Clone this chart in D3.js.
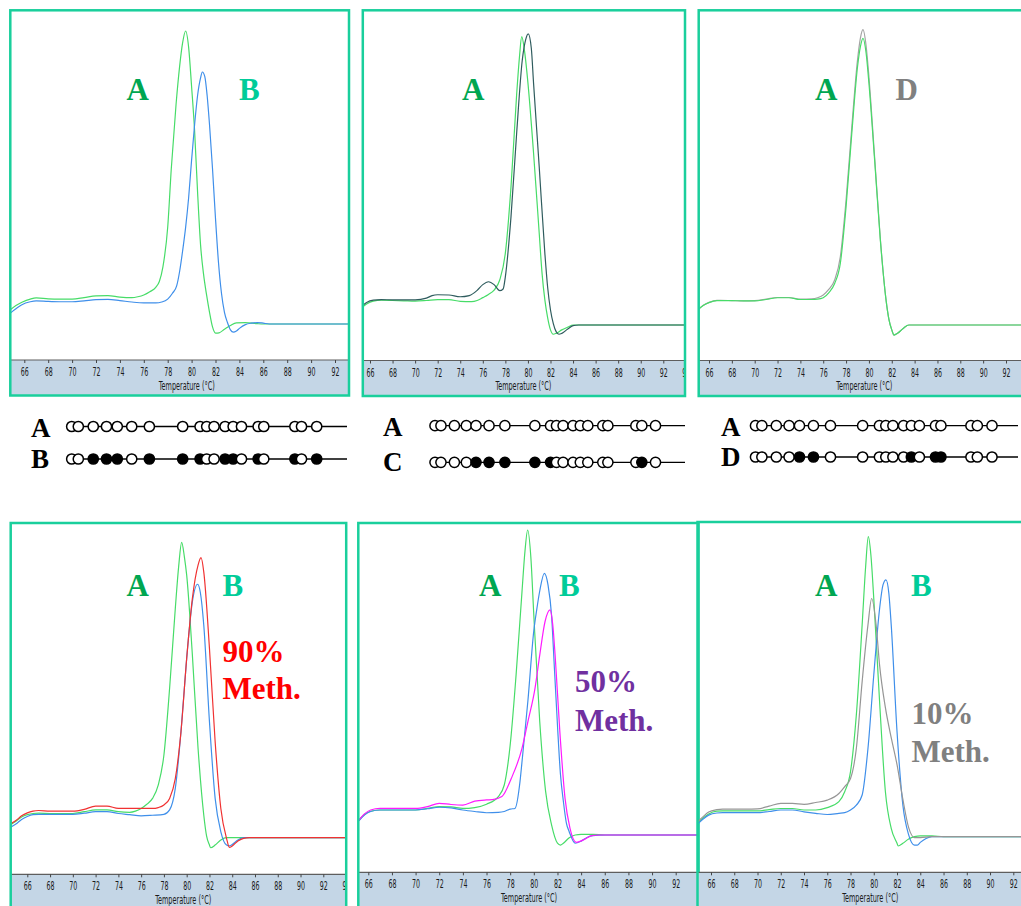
<!DOCTYPE html>
<html><head><meta charset="utf-8">
<script src="https://cdn.jsdelivr.net/npm/d3@7"></script>
<style>body{margin:0;background:#fff}svg{display:block}</style>
</head><body><svg id="chart" width="1021" height="906"></svg>
<script>
// ---------------- DATA ----------------
const tickTemps = [66,68,70,72,74,76,78,80,82,84,86,88,90,92,94];
const axisTitle = "Temperature (°C)";

// melt curves: [temperature °C, relative -dF/dT]
const p1_A = [[64.8,4.8],[65.3,6.3],[65.8,7.4],[66.5,8.5],[67,8.9],[68,8.6],[69,8.5],[70,8.5],[71,9.0],[72,9.6],[73,9.7],[74,9.2],[75,9.0],[75.5,9.3],[76,9.9],[76.5,11.0],[77,12.5],[77.3,14.5],[77.6,19.5],[78,33],[78.3,53],[78.7,75],[79,88],[79.25,96],[79.5,100],[79.75,94.5],[80,81],[80.25,66],[80.5,45],[80.75,27],[81,17],[81.25,10],[81.5,4],[81.75,-1],[82,-3.1],[82.3,-3.0],[82.75,-1.8],[83.25,-0.5],[83.75,0.4],[84.5,0.5],[85.5,0.1],[86,0],[94,0]];
const p1_B = [[64.8,3.6],[65.3,5.2],[65.8,6.6],[66.5,7.6],[67,7.9],[68,7.7],[69,7.6],[70,7.6],[71,7.9],[72,8.3],[73,8.4],[74,8.0],[75,7.5],[76,7.2],[77,7.2],[77.5,7.5],[78,8.5],[78.4,10.5],[78.75,13],[79,18],[79.25,25],[79.5,33],[79.75,43],[80,56],[80.25,68],[80.5,78],[80.75,84],[80.9,86],[81.1,84.5],[81.3,78],[81.5,68],[81.75,53],[82,36],[82.25,21],[82.5,10.5],[82.75,4],[83,0.5],[83.25,-2],[83.5,-2.8],[83.75,-2.4],[84,-1.5],[84.5,-0.2],[85,0.3],[85.5,0.5],[86,0.3],[86.5,0],[94,0]];

const p2_A = [[65.2,5.8],[65.7,7.3],[66.3,8.3],[67,8.6],[68,8.5],[69,8.4],[70,8.3],[71,8.5],[72,8.8],[73,8.8],[74,8.2],[75,8.1],[75.5,8.5],[76,9.5],[76.5,10.6],[77,12.1],[77.5,15.6],[78,25],[78.5,48],[79,80],[79.25,93],[79.45,100],[79.7,95],[80,84],[80.5,59.6],[81,31.8],[81.25,18],[81.5,8.7],[81.75,2.5],[82,-1.7],[82.25,-3.2],[82.5,-2.9],[83,-1.7],[83.5,-0.8],[84,0],[95,0]];
const p2_C = [[65.2,6.3],[65.7,7.8],[66.3,8.6],[67,8.8],[68,8.7],[69,8.7],[70,8.7],[71,9.3],[71.5,10.2],[72,10.5],[73,10.4],[74,9.8],[74.8,10.2],[75.5,12],[76,14],[76.5,15],[77,14],[77.5,11.9],[77.8,12.5],[78,16.8],[78.5,37.6],[79,66.5],[79.5,91.9],[79.8,99],[80.03,101],[80.3,96],[80.5,83.8],[81,54.9],[81.5,24.9],[81.75,13],[82,5.2],[82.25,0.5],[82.5,-2.3],[82.75,-3.2],[83,-2.9],[83.5,-1.5],[84,-0.2],[84.5,0],[95,0]];

const p3_A = [[65.0,5.2],[65.5,6.8],[66,7.8],[66.7,8.5],[67,8.5],[68,8.5],[69,8.4],[70,8.4],[71,8.9],[72,9.5],[73,9.5],[74,8.9],[75,8.9],[75.5,9.0],[76,9.5],[76.5,11.3],[77,14.5],[77.5,21.6],[78,41.3],[78.5,66.8],[79,90],[79.25,97],[79.48,100],[79.75,95],[80,84.3],[80.5,57.5],[81,29.6],[81.5,8.7],[81.75,2],[82,-1.7],[82.2,-3.5],[82.5,-2.9],[83,-1.2],[83.5,0],[95,0]];
const p3_D = [[65.0,5.2],[65.5,6.9],[66,7.9],[66.7,8.6],[67,8.6],[68,8.5],[69,8.4],[70,8.5],[71,9.0],[72,9.6],[73,9.6],[74,9.0],[75,9.1],[75.5,9.5],[76,10.5],[76.5,12.5],[77,15.7],[77.5,23.9],[78,43.6],[78.5,69],[79,92.4],[79.25,100],[79.48,103],[79.75,97.5],[80,86.6],[80.5,58.5],[81,30],[81.5,8.7],[81.75,2],[82,-1.7],[82.2,-3.5],[82.5,-2.9],[83,-1.2],[83.5,0],[95,0]];

const p4_A = [[64.5,4.3],[65,5.6],[65.5,7.0],[66,7.8],[66.5,8.2],[67,8.3],[68,8.2],[69,8.2],[70,8.2],[71,8.8],[72,9.4],[73,9.4],[74,8.8],[75,8.6],[75.5,9.0],[76,9.9],[76.5,11.3],[77,13.3],[77.5,17.8],[78,28],[78.5,50.6],[79,77.6],[79.3,92],[79.56,100],[79.8,95],[80,88.9],[80.5,61.8],[81,30.2],[81.5,7.7],[81.75,0.5],[82,-2.5],[82.1,-3.4],[82.5,-2.5],[83,-0.8],[83.5,0],[95,0]];
const p4_90 = [[64.5,4.6],[65,5.8],[65.5,7.4],[66,8.4],[66.5,9.0],[67,9.2],[68,9.0],[69,9.0],[70,9.0],[71,9.6],[72,10.7],[73,10.7],[74,9.9],[75,9.9],[76,9.9],[77,9.9],[77.5,10.2],[78,11.1],[78.5,13.3],[79,20],[79.5,35.9],[80,60.7],[80.5,81],[81,92.3],[81.26,94.8],[81.5,90],[82,64.1],[82.5,32.5],[83,9.9],[83.5,-0.2],[83.75,-3.3],[84,-2.8],[84.5,-1.1],[85,-0.2],[85.5,0],[95,0]];
const p4_B = [[64.5,3.5],[65,4.6],[65.5,6.2],[66,7.2],[66.5,7.8],[67,7.9],[68,7.9],[69,7.9],[70,7.9],[71,8.3],[72,8.8],[73,8.8],[74,8.2],[75,7.8],[76,7.4],[77,7.6],[78,7.9],[78.5,9.4],[79,16.7],[79.5,35.9],[80,60.7],[80.5,79.9],[80.96,85.8],[81.2,83],[81.5,72],[82,39.3],[82.5,13.3],[83,2],[83.5,-2.5],[83.75,-2.8],[84,-2.3],[84.5,-0.8],[85,0],[95,0]];

const p5_A = [[65.2,4.9],[65.7,6.8],[66.2,7.8],[67,8.2],[68,8.2],[69,8.2],[70,8.2],[71,8.7],[72,9.3],[73,9.2],[74,8.7],[75,9.0],[76,10.1],[77,12.6],[77.5,16.4],[78,29.5],[78.5,52.5],[79,79.8],[79.25,93],[79.48,100],[79.75,91],[80,72],[80.5,37.2],[81,14.2],[81.5,3.3],[82,-2.7],[82.25,-3.3],[82.5,-2.7],[83,-0.9],[83.5,0],[84,0.2],[85,0.2],[86,0],[95,0]];
const p5_B = [[65.2,4.6],[65.7,6.6],[66.2,7.7],[67,8.2],[68,8.2],[69,8.2],[70,8.2],[71,8.6],[72,9.1],[73,8.9],[74,8.2],[75,7.7],[76,7.3],[77,7.4],[77.5,7.7],[78,8.5],[78.4,8.7],[78.83,17.5],[79,24],[79.5,44],[80,67],[80.25,74],[80.5,80],[80.89,85.8],[81.2,82],[81.5,72],[81.75,54],[82,36],[82.25,20],[82.5,11],[82.75,4],[83,1],[83.5,-2.7],[84,-2.0],[84.5,-0.8],[85,-0.2],[86,0],[95,0]];
const p5_50 = [[65.2,4.9],[65.7,7.0],[66.2,8.2],[67,8.7],[68,8.7],[69,8.7],[70,8.7],[71,9.3],[72,10.4],[73,10.0],[74,9.8],[75,11.1],[76,11.5],[76.5,11.6],[77.3,12.6],[78.1,18.6],[79,28.4],[79.5,37.2],[80.1,48.1],[80.5,59],[80.95,70],[81.37,73.8],[81.6,69],[81.8,59],[82.2,33.9],[82.64,12],[83.06,2.2],[83.6,-2.4],[84.2,-1.6],[84.9,-0.2],[85.5,0],[95,0]];

const p6_A = [[64.8,4.4],[65.3,6.2],[65.8,7.6],[66.5,8.5],[67,8.6],[68,8.6],[69,8.6],[70,8.6],[71,9.0],[72,9.4],[73,9.4],[74,8.9],[75,8.9],[76,9.7],[77,11.7],[77.5,15],[78,21.7],[78.5,40.6],[79,70.6],[79.3,90],[79.53,100],[79.75,94],[80,79.4],[80.5,45],[81,15],[81.5,2.8],[82,-2.2],[82.1,-3.1],[82.5,-2.2],[83,-0.8],[83.5,0],[84,0.3],[85,0.3],[86,0],[95,0]];
const p6_B = [[64.8,4.0],[65.3,5.8],[65.8,7.2],[66.5,7.9],[67,8.0],[68,8.0],[69,8.0],[70,8.0],[71,8.4],[72,8.9],[73,8.9],[74,8.3],[75,7.8],[76,7.4],[77,7.8],[77.5,8.0],[78,8.9],[78.5,10.5],[79,13.9],[79.5,29.4],[80,53.9],[80.5,76],[80.8,84],[81.05,85.6],[81.3,81],[81.5,70.6],[82,35],[82.5,10.6],[83,0.6],[83.5,-2.8],[83.75,-2.8],[84,-1.9],[84.5,-0.6],[85,0],[95,0]];
const p6_10 = [[64.8,4.8],[65.3,6.6],[65.8,8.2],[66.5,9.0],[67,9.2],[68,9.2],[69,9.2],[70,9.3],[71,10.2],[72,11.1],[73,11.1],[74,10.8],[75,11.4],[76,12.2],[77,14.4],[77.5,16.7],[78,19.4],[78.5,29.4],[79,51.7],[79.5,70.6],[79.82,79.4],[80.2,70.6],[80.5,57.2],[81,43],[81.5,33],[82,24],[82.5,12.5],[83,3],[83.5,-0.3],[84,-0.3],[85,0],[95,0]];

// CpG sites: relative position along the amplicon (0-100) and methylation state (1 = methylated)
const cpgSites = [0,2.7,8.8,14.2,18.6,24.5,31.7,45.3,52.4,55.1,58.1,62.6,65.9,69.3,76.1,78.4,91.1,93.8,100];
const methA = [0,0,0,0,0,0,0,0,0,0,0,0,0,0,0,0,0,0,0];
const methB = [0,0,1,1,1,0,1,1,1,0,0,1,1,0,1,0,1,0,1];
const methC = [0,0,0,0,1,1,1,1,1,0,0,0,0,0,0,0,0,1,0];
const methD = [0,0,0,0,1,1,0,0,0,0,0,0,1,0,1,1,0,0,0];

// ---------------- STYLE / LAYOUT ----------------
const COL = {green:"#47dc68", blue:"#3f8fea", slate:"#2f5c5e", grayD:"#a3a3a3", red:"#f03232", magenta:"#ff1aff", gray10:"#969696",
  labA:"#00a651", labB:"#00cc99", labD:"#808080", m90:"#ff0000", m50:"#7030a0", m10:"#808080",
  border:"#1acf9c", band:"#c4d6e6", bandLine:"#5e5e5e"};

const layouts = [
 {left:10.3, top:10.3, right:349, bottom:395.5, bandTop:360, x66:24.3, x92:335, y0:324, y100:31, titleT:79.6, maxTick:92},
 {left:362.8, top:10.3, right:685, bottom:396, bandTop:360.5, x66:370, x92:663.3, y0:325, y100:36.7, titleT:79.6, maxTick:94},
 {left:698.7, top:10.3, right:1030, bottom:396, bandTop:360.5, x66:709, x92:1006, y0:325, y100:38.3, titleT:79.6, maxTick:92},
 {left:10.7, top:523, right:346.2, bottom:920, bandTop:874.3, x66:27.3, x92:323.3, y0:837.7, y100:542.3, titleT:79.7, maxTick:94},
 {left:358.3, top:523, right:698.6, bottom:920, bandTop:872.3, x66:368.3, x92:675.7, y0:835, y100:530, titleT:79.6, maxTick:92},
 {left:697.5, top:522, right:1030, bottom:920, bandTop:872.3, x66:711, x92:1013.3, y0:836.7, y100:536.7, titleT:79.7, maxTick:92}
];

const panels = [
 {curves:[[p1_A,COL.green],[p1_B,COL.blue]],
  labels:[["A",COL.labA,126.5,100],["B",COL.labB,239,100]]},
 {curves:[[p2_A,COL.green],[p2_C,COL.slate]],
  labels:[["A",COL.labA,462,100]]},
 {curves:[[p3_D,COL.grayD],[p3_A,COL.green]],
  labels:[["A",COL.labA,815,100],["D",COL.labD,895.5,100]]},
 {curves:[[p4_A,COL.green],[p4_B,COL.blue],[p4_90,COL.red]],
  labels:[["A",COL.labA,126.5,596],["B",COL.labB,222.5,596],["90%",COL.m90,222.5,661.5],["Meth.",COL.m90,222.5,699]]},
 {curves:[[p5_A,COL.green],[p5_B,COL.blue],[p5_50,COL.magenta]],
  labels:[["A",COL.labA,479,596],["B",COL.labB,559,596],["50%",COL.m50,575,691.5],["Meth.",COL.m50,575,731]]},
 {curves:[[p6_A,COL.green],[p6_B,COL.blue],[p6_10,COL.gray10]],
  labels:[["A",COL.labA,815,596],["B",COL.labB,911,596],["10%",COL.m10,911.5,724.3],["Meth.",COL.m10,911.5,762.3]]}
];

const rowGroups = [
 {letterX:31, rows:[["A",methA,426.5,436.5],["B",methB,459,467.5]], c0:71.7, c1:316.7, lineEnd:347},
 {letterX:383, rows:[["A",methA,425.7,435.5],["C",methC,462.3,470.5]], c0:435, c1:655.5, lineEnd:685},
 {letterX:721, rows:[["A",methA,425.7,435.5],["D",methD,457,465.5]], c0:755.5, c1:992, lineEnd:1018}
];

// ---------------- DRAW ----------------
const svg = d3.select("#chart");
svg.append("rect").attr("width",1021).attr("height",906).attr("fill","#fff");
const defs = svg.append("defs");
const serif = "'Liberation Serif','Times New Roman',Times,serif";
const narrow = "'Liberation Sans Narrow','Arial Narrow','DejaVu Sans Condensed',sans-serif";

panels.forEach((p,i)=>{
  const L = layouts[i];
  const x = d3.scaleLinear().domain([66,92]).range([L.x66,L.x92]);
  const y = d3.scaleLinear().domain([0,100]).range([L.y0,L.y100]);
  defs.append("clipPath").attr("id","plot"+i).append("rect")
    .attr("x",L.left).attr("y",L.top).attr("width",L.right-L.left).attr("height",L.bandTop-L.top);
  defs.append("clipPath").attr("id","panel"+i).append("rect")
    .attr("x",L.left).attr("y",L.top).attr("width",L.right-L.left).attr("height",L.bottom-L.top);

  const g = svg.append("g");
  // axis band
  const bandG = g.append("g").attr("clip-path",`url(#panel${i})`);
  bandG.append("rect").attr("x",L.left).attr("y",L.bandTop).attr("width",L.right-L.left)
    .attr("height",L.bottom-L.bandTop).attr("fill",COL.band);
  bandG.append("line").attr("x1",L.left).attr("x2",L.right).attr("y1",L.bandTop).attr("y2",L.bandTop)
    .attr("stroke",COL.bandLine).attr("stroke-width",1.2);
  const visibleTicks = tickTemps.filter(t => t <= L.maxTick);
  const ax = bandG.append("g").attr("transform",`translate(0,${L.bandTop})`)
    .call(d3.axisBottom(x).tickValues(visibleTicks).tickSize(3).tickPadding(4.5).tickFormat(d3.format("d")));
  ax.select(".domain").remove();
  ax.selectAll(".tick line").attr("stroke","#444");
  ax.selectAll(".tick text").attr("font-family",narrow).attr("font-size",12).attr("fill","#1a1a1a")
    .attr("textLength",8).attr("lengthAdjust","spacingAndGlyphs");
  bandG.append("text").attr("x",x(L.titleT)).attr("y",L.bandTop+29.5).attr("text-anchor","middle")
    .attr("font-family",narrow).attr("font-size",11.5).attr("fill","#1a1a1a")
    .attr("textLength",56).attr("lengthAdjust","spacingAndGlyphs").text(axisTitle);

  // curves
  const line = d3.line().x(d=>x(d[0])).y(d=>y(d[1])).curve(d3.curveMonotoneX);
  const cg = g.append("g").attr("clip-path",`url(#plot${i})`);
  p.curves.forEach(([data,color])=>{
    cg.append("path").attr("d",line(data)).attr("fill","none").attr("stroke",color).attr("stroke-width",1.2);
  });

  // labels
  p.labels.forEach(([t,c,lx,ly])=>{
    g.append("text").attr("x",lx).attr("y",ly).attr("font-family",serif).attr("font-weight","bold")
      .attr("font-size",31).attr("fill",c).text(t);
  });

  // border
  g.append("rect").attr("x",L.left).attr("y",L.top).attr("width",L.right-L.left).attr("height",L.bottom-L.top)
    .attr("fill","none").attr("stroke",COL.border).attr("stroke-width",2.5);
});

// CpG lollipop rows
rowGroups.forEach(rg=>{
  const sx = d3.scaleLinear().domain([0,100]).range([rg.c0,rg.c1]);
  rg.rows.forEach(([letter,meth,ly,lb])=>{
    const g = svg.append("g");
    g.append("text").attr("x",rg.letterX).attr("y",lb).attr("font-family",serif).attr("font-weight","bold")
      .attr("font-size",27).attr("fill","#000").text(letter);
    g.append("line").attr("x1",sx(0)).attr("x2",rg.lineEnd).attr("y1",ly).attr("y2",ly)
      .attr("stroke","#000").attr("stroke-width",1.3);
    g.selectAll("circle").data(cpgSites.map((s,k)=>[s,meth[k]])).join("circle")
      .attr("cx",d=>sx(d[0])).attr("cy",ly).attr("r",5.1)
      .attr("fill",d=>d[1]?"#000":"#fff").attr("stroke","#000").attr("stroke-width",1.5);
  });
});
</script></body></html>
